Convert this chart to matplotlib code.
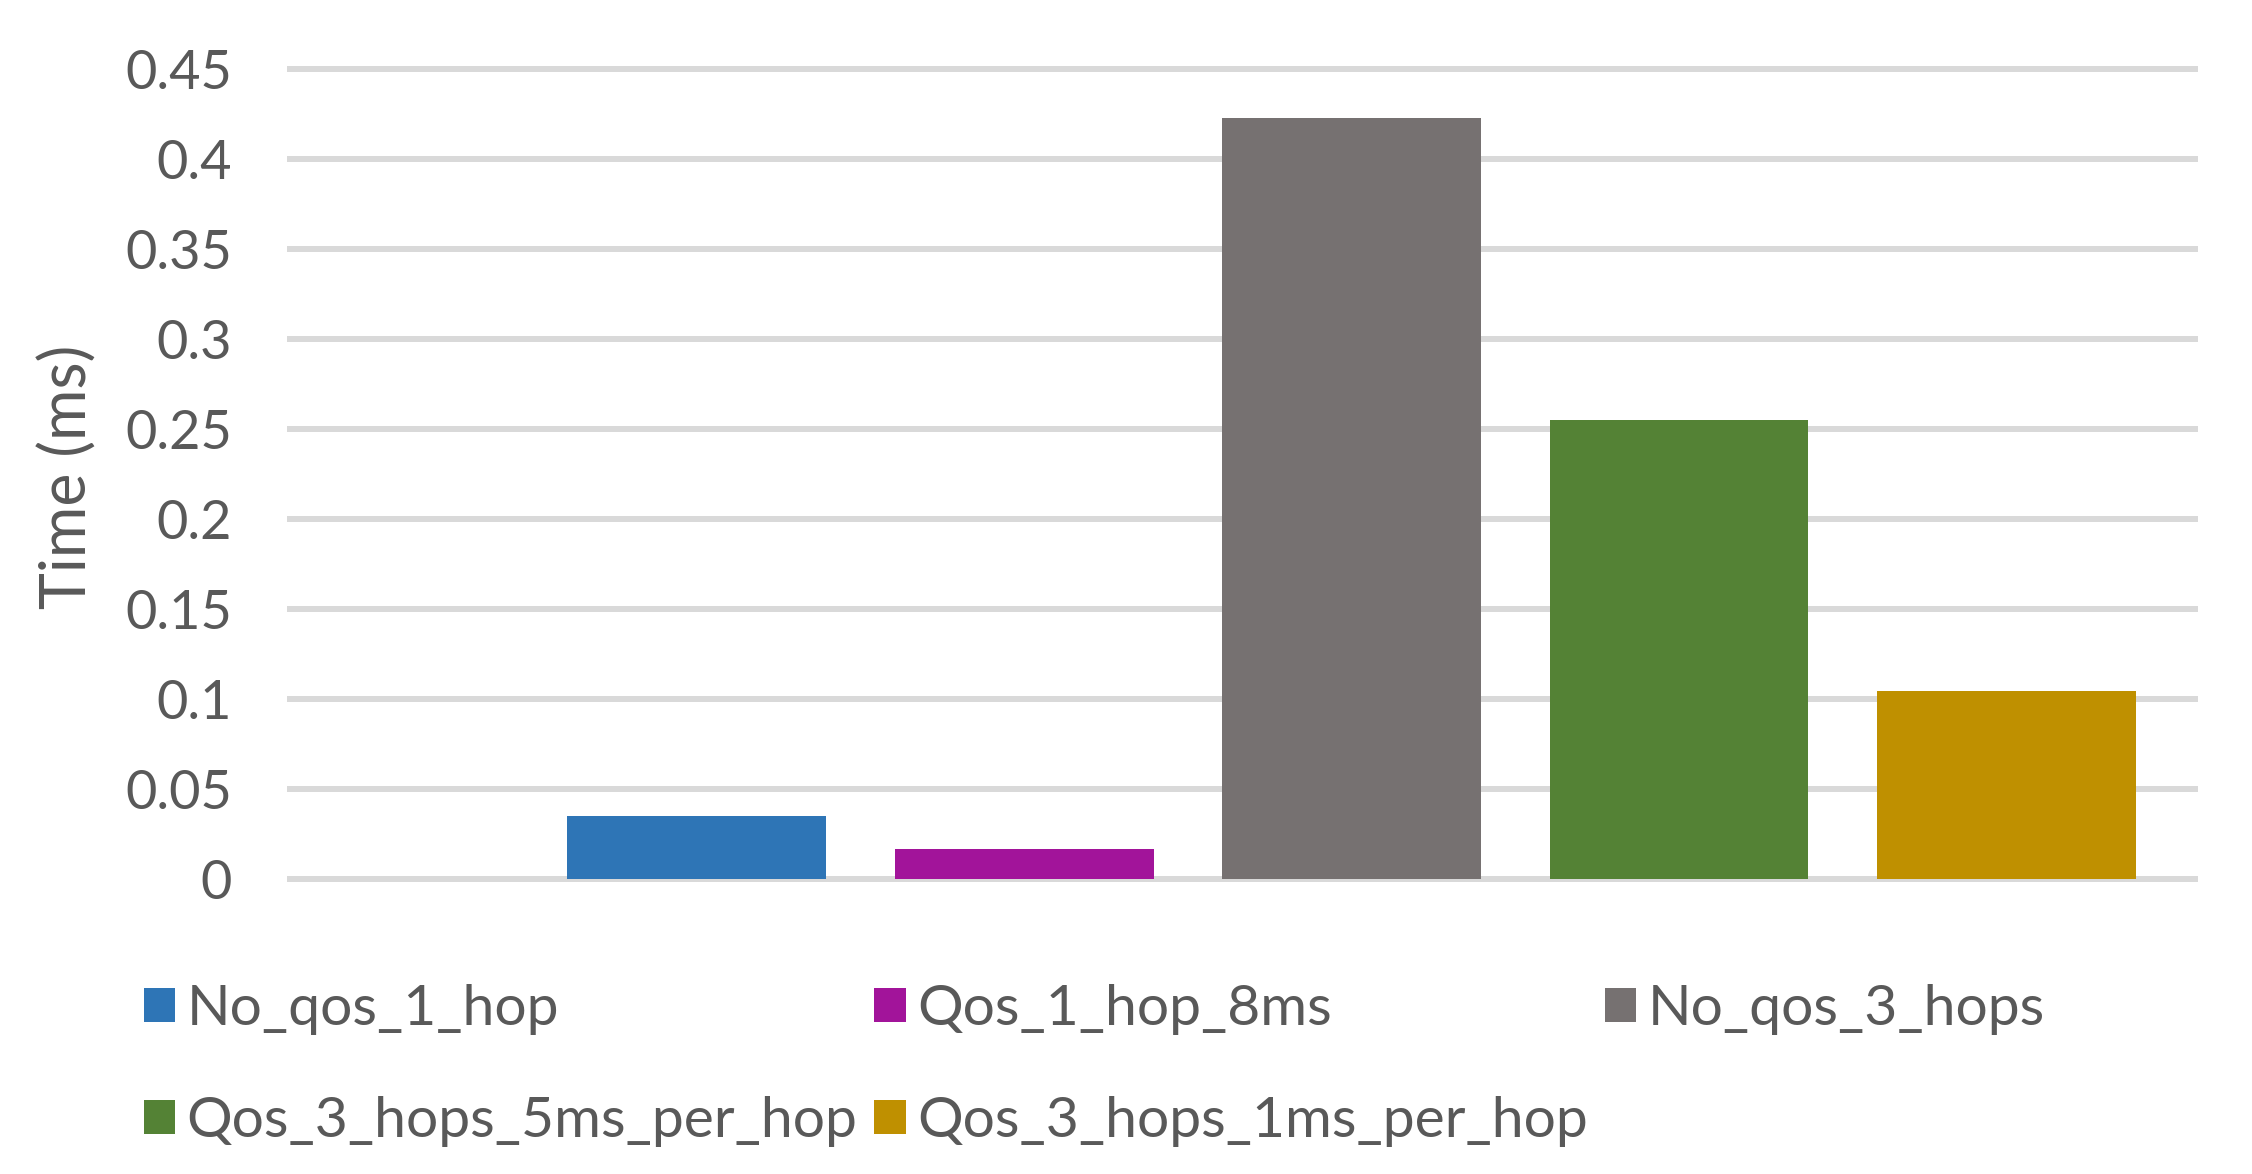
import matplotlib.pyplot as plt
import numpy as np

# series (one per bar)
series_names = [
    "No_qos_1_hop",
    "Qos_1_hop_8ms",
    "No_qos_3_hops",
    "Qos_3_hops_5ms_per_hop",
    "Qos_3_hops_1ms_per_hop",
]
times_ms = [0.0355, 0.0167, 0.423, 0.255, 0.1045]
colors = ["#2E75B6", "#A2149A", "#767171", "#548235", "#BF9000"]
y_ticks = [0, 0.05, 0.1, 0.15, 0.2, 0.25, 0.3, 0.35, 0.4, 0.45]
y_tick_labels = ["0", "0.05", "0.1", "0.15", "0.2", "0.25", "0.3", "0.35", "0.4", "0.45"]

TEXT_COLOR = "#595959"
GRID_COLOR = "#D9D9D9"

plt.rcParams["font.family"] = ["Lato", "DejaVu Sans"]

fig = plt.figure(figsize=(22.52, 11.74), dpi=100)
ax = fig.add_axes([0.1276, 0.2432, 0.8482, 0.7058])

x_positions = np.arange(len(times_ms))
handles = []
for x, value, color, name in zip(x_positions, times_ms, colors, series_names):
    h = ax.bar(x, value, width=0.79, color=color, label=name, zorder=3)
    handles.append(h)

ax.set_xlim(-1.25, 4.583)
ax.set_ylim(-0.005, 0.455)
ax.set_yticks(y_ticks)
ax.set_yticklabels(y_tick_labels)
ax.set_xticks([])
ax.tick_params(axis="y", length=0, pad=40, labelsize=39, labelcolor=TEXT_COLOR)

for y in y_ticks:
    ax.axhline(y, color=GRID_COLOR, linewidth=4.3, zorder=1)

for spine in ax.spines.values():
    spine.set_visible(False)

fig.text(0.030, 0.594, "Time (ms)", rotation=90, ha="center", va="center",
         fontsize=45, color=TEXT_COLOR)

# legend laid out row-wise like the original (matplotlib fills by column)
order = [0, 3, 1, 4, 2]
fig.legend(
    [handles[i] for i in order],
    [series_names[i] for i in order],
    ncol=3,
    loc="upper left",
    bbox_to_anchor=(0.0638, 0.162),
    borderaxespad=0,
    frameon=False,
    fontsize=41,
    labelcolor=TEXT_COLOR,
    handlelength=0.55,
    handleheight=0.55,
    handletextpad=0.2,
    columnspacing=0.3,
    labelspacing=1.08,
    borderpad=0,
)

fig.savefig("out.png", dpi=100)
plt.close(fig)
